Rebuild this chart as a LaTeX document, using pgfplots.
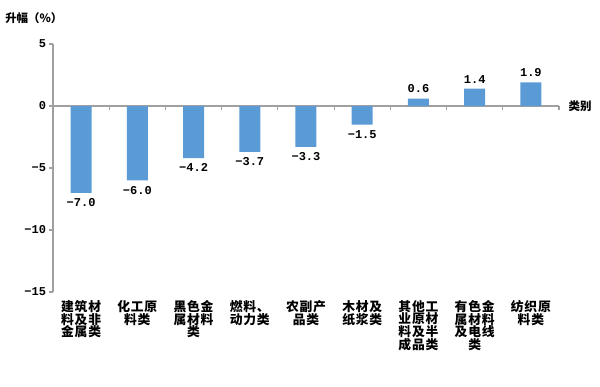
\documentclass[border=0pt]{standalone}
\usepackage{fontspec}
\usepackage{pgfplots}
\usepackage{pgfplotstable}
\pgfplotsset{compat=1.18}
\newfontfamily\cjk{Noto Sans CJK SC}
\newfontfamily\cjkw{Noto Sans CJK SC}[LetterSpace=6]
\newfontfamily\mono{Liberation Mono}
\definecolor{barblue}{RGB}{91,155,213}
\definecolor{axgrey}{RGB}{160,160,160}
\pgfplotstableread{
x y lab
0.5 -7.0 −7.0
1.5 -6.0 −6.0
2.5 -4.2 −4.2
3.5 -3.7 −3.7
4.5 -3.3 −3.3
5.5 -1.5 −1.5
}\neg
\pgfplotstableread{
x y lab
6.5 0.6 0.6
7.5 1.4 1.4
8.5 1.9 1.9
}\pos
\tikzset{catlbl/.style={anchor=north, align=center, font=\cjkw\bfseries\fontsize{9.6}{9.6}\selectfont, inner sep=0pt, yshift=-6pt}}
\begin{document}
\begin{tikzpicture}
\begin{axis}[
  scale only axis, width=379.5pt, height=186pt,
  xmin=0, xmax=9, ymin=-15, ymax=5,
  axis x line*=middle, axis y line*=left,
  axis line style={axgrey, line width=0.8pt, -},
  xtick={0,...,9}, xticklabels={},
  ytick={-15,-10,-5,0,5},
  yticklabels={−15,−10,−5,0,5},
  yticklabel style={font=\mono\bfseries\fontsize{9}{9}\selectfont, inner sep=1pt, xshift=-1pt},
  major tick length=3pt,
  xtick align=inside, ytick align=outside,
  tick style={axgrey, line width=0.8pt},
  clip=false,
  ybar, bar width=15.75pt, bar shift=0pt,
  point meta=explicit symbolic,
  nodes near coords,
  nodes near coords style={font=\mono\bfseries\fontsize{9}{9}\selectfont, text=black, inner sep=4pt},
]
\addplot[fill=barblue, draw=none, nodes near coords style={anchor=north}] table[x=x, y=y, meta=lab] {\neg};
\addplot[fill=barblue, draw=none, nodes near coords style={anchor=south}] table[x=x, y=y, meta=lab] {\pos};
\coordinate (O) at (rel axis cs:0,0);
\coordinate (T) at (rel axis cs:0,1);
\coordinate (R) at (axis cs:9,0);
\node[catlbl] at (axis cs:0.5,-15) {建筑材\\料及非\\金属类};
\node[catlbl] at (axis cs:1.5,-15) {化工原\\料类};
\node[catlbl] at (axis cs:2.5,-15) {黑色金\\属材料\\类};
\node[catlbl] at (axis cs:3.5,-15) {燃料、\\动力类};
\node[catlbl] at (axis cs:4.5,-15) {农副产\\品类};
\node[catlbl] at (axis cs:5.5,-15) {木材及\\纸浆类};
\node[catlbl] at (axis cs:6.5,-15) {其他工\\业原材\\料及半\\成品类};
\node[catlbl] at (axis cs:7.5,-15) {有色金\\属材料\\及电线\\类};
\node[catlbl] at (axis cs:8.5,-15) {纺织原\\料类};
\end{axis}
\node[anchor=west, font=\cjk\bfseries\fontsize{8.6}{9}\selectfont, inner sep=0pt] at ([xshift=-36pt, yshift=19.5pt]T) {升幅（\%）};
\node[anchor=west, font=\cjk\bfseries\fontsize{8.6}{9}\selectfont, inner sep=0pt] at ([xshift=7pt]R) {类别};
\pgfresetboundingbox
\path[use as bounding box] ([shift={(-39.75pt,-70.5pt)}]O) rectangle ([shift={(410.25pt,219pt)}]O);
\end{tikzpicture}
\end{document}
